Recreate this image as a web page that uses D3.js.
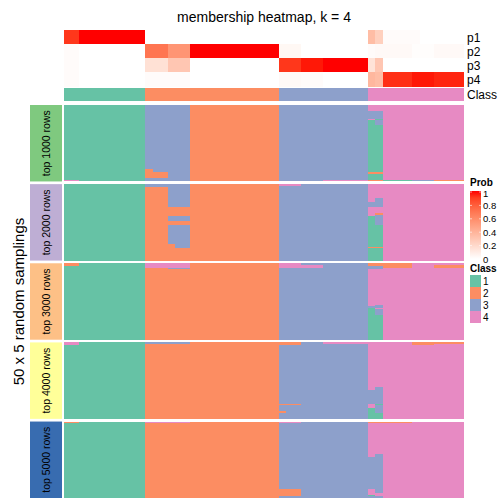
<!DOCTYPE html>
<html><head><meta charset="utf-8">
<script src="https://cdn.jsdelivr.net/npm/d3@7"></script>
<style>body{margin:0;background:#fff}svg{display:block}text{font-family:"Liberation Sans",Arial,sans-serif}</style>
</head><body>
<svg id="c" width="504" height="504"></svg>
<script>
// ---------- data ----------
const title = "membership heatmap, k = 4";
const sideTitle = "50 x 5 random samplings";
const panelNames = ["top 1000 rows","top 2000 rows","top 3000 rows","top 4000 rows","top 5000 rows"];
const probRows = ["p1","p2","p3","p4"];
const classLevels = [1,2,3,4];
const probTicks = [0,0.2,0.4,0.6,0.8,1];
const nSamplings = 50;

// consensus class of each of 54 samples (columns)
const sampleClass = [1,1,1,1,1,1,1,1,1,1,1,
  2,2,2,2,2,2,2,2,2,2,2,2,2,2,2,2,2,2,
  3,3,3,3,3,3,3,3,3,3,3,3,
  4,4,4,4,4,4,4,4,4,4,4,4,4];

// membership probabilities per sample
const p1 = [0.92,0.92,1,1,1,1,1,1,1,1,1,
  0,0,0,0,0,0,0,0,0,0,0,0,0,0,0,0,0,0,
  0,0,0,0,0,0,0,0,0,0,0,0,
  0.35,0.25,0.02,0.02,0.02,0.02,0.02,0,0,0,0,0,0];
const p2 = [0.02,0.02,0,0,0,0,0,0,0,0,0,
  0.7,0.7,0.7,0.55,0.55,0.55,1,1,1,1,1,1,1,1,1,1,1,1,
  0.04,0.04,0.04,0,0,0,0,0,0,0,0,0,
  0.02,0.03,0.03,0.03,0.03,0.03,0.01,0.01,0.01,0.03,0.03,0.03,0.03];
const p3 = [0.02,0.02,0,0,0,0,0,0,0,0,0,
  0.16,0.16,0.16,0.3,0.3,0.3,0,0,0,0,0,0,0,0,0,0,0,0,
  0.92,0.92,0.92,0.98,0.98,0.98,1,1,1,1,1,1,
  0.15,0.3,0,0,0,0,0,0,0,0,0,0,0];
const p4 = [0.02,0.02,0,0,0,0,0,0,0,0,0,
  0.02,0.02,0.02,0.02,0.02,0.02,0,0,0,0,0,0,0,0,0,0,0,0,
  0.03,0.03,0.03,0.02,0.02,0.02,0,0,0,0,0,0,
  0.38,0.35,0.94,0.94,0.94,0.94,0.98,0.98,0.98,0.96,0.96,0.96,0.96];

// per panel: deviations from the consensus class
// [firstSample, lastSample, firstSampling, lastSampling, class]
const panel1 = [
  [0,1,49,49,4],[11,16,0,49,3],[11,11,42,47,2],[12,13,44,47,2],[35,40,49,49,4],
  [41,41,4,8,3],[41,41,10,48,1],[41,41,44,44,2],
  [42,42,4,8,3],[42,42,9,9,1],[42,42,10,12,3],[42,42,13,48,1],[42,42,44,44,2],
  [41,42,49,49,2],[43,46,49,49,1],[47,49,49,49,3],[50,53,49,49,2]];
const panel2 = [
  [11,16,0,1,3],[14,16,2,14,3],[14,16,21,23,3],[14,14,27,38,3],[15,16,27,41,3],
  [29,31,0,0,4],
  [42,42,9,11,3],[41,42,12,14,3],[41,41,21,49,1],[41,41,41,41,2],
  [42,42,19,19,2],[42,42,20,26,3],[42,42,27,49,1],[42,42,41,41,2]];
const panel3 = [
  [0,1,0,1,2],[11,16,0,2,4],[14,16,3,3,3],
  [29,31,0,2,4],[32,34,1,2,4],
  [41,42,0,1,2],[41,42,2,3,3],[41,41,28,28,3],[41,41,29,49,1],
  [42,42,27,28,3],[42,42,30,33,3],[42,42,34,49,1],
  [43,46,0,2,2],[50,53,1,2,2]];
const panel4 = [
  [0,1,0,1,4],[11,16,0,0,3],
  [29,31,0,1,2],[29,31,40,40,2],[29,29,45,45,2],[35,40,0,0,4],
  [41,41,31,39,3],[41,41,43,49,1],[42,42,29,39,3],[42,42,40,40,1],[42,42,41,45,3],[42,42,46,49,1],
  [47,49,0,1,2],[50,53,0,0,2]];
const panel5 = [
  [0,1,0,0,2],[11,16,0,0,4],[29,31,0,0,4],[29,31,44,48,2],
  [41,42,0,0,2],[41,41,23,43,3],[41,41,48,48,1],[41,41,49,49,3],[42,42,21,46,3],[42,42,49,49,3],
  [43,46,0,0,2]];
const panels = [panel1,panel2,panel3,panel4,panel5];

// ---------- styles ----------
const classColors = ["#66c2a5","#fc8d62","#8da0cb","#e78ac3"];
const panelColors = ["#7fc97f","#beaed4","#fdc086","#ffff99","#386cb0"];

// ---------- drawing ----------
const svg = d3.select("#c");
const nS = sampleClass.length;
const x = d3.scaleBand().domain(d3.range(nS)).range([64,464]);
const yProb = d3.scaleBand().domain(probRows).range([30,86.5]);
const yClassBar = [88,101];
const yPanel = d3.scaleBand().domain(d3.range(panels.length)).range([105,498]).paddingInner(0.034);
const cls = d3.scaleOrdinal().domain(classLevels).range(classColors);
const prob = d3.scaleLinear().domain([0,1]).range(["#ffffff","#ff0000"]).interpolate(d3.interpolateLab);

svg.append("text").attr("x",264).attr("y",22).attr("text-anchor","middle")
  .attr("font-size",14).text(title);

const probData = [p1,p2,p3,p4];
const gTop = svg.append("g").attr("shape-rendering","crispEdges");
probRows.forEach((r,i)=>{
  gTop.selectAll(null).data(probData[i]).join("rect")
    .attr("x",(d,j)=>x(j)).attr("width",x.bandwidth()+0.3)
    .attr("y",yProb(r)).attr("height",yProb.bandwidth()+0.3)
    .attr("fill",d=>prob(d));
  svg.append("text").attr("x",467).attr("y",yProb(r)+yProb.bandwidth()/2+4.5)
    .attr("font-size",12).text(r);
});
gTop.selectAll(null).data(sampleClass).join("rect")
  .attr("x",(d,j)=>x(j)).attr("width",x.bandwidth()+0.3)
  .attr("y",yClassBar[0]).attr("height",yClassBar[1]-yClassBar[0])
  .attr("fill",d=>cls(d));
svg.append("text").attr("x",467).attr("y",(yClassBar[0]+yClassBar[1])/2+4.5)
  .attr("font-size",12).text("Class");

// panels
panels.forEach((ov,pi)=>{
  const grid = sampleClass.map(c=>d3.range(nSamplings).map(()=>c));
  ov.forEach(([c0,c1,r0,r1,k])=>{
    for(let c=c0;c<=c1;c++) for(let r=r0;r<=r1;r++) grid[c][r]=k;
  });
  const y = d3.scaleBand().domain(d3.range(nSamplings)).range([yPanel(pi), yPanel(pi)+yPanel.bandwidth()]);
  const runs = [];
  grid.forEach((col,c)=>{
    let start=0;
    for(let r=1;r<=nSamplings;r++){
      if(r===nSamplings || col[r]!==col[start]){
        runs.push({c, r0:start, r1:r-1, k:col[start]});
        start=r;
      }
    }
  });
  const g = svg.append("g").attr("shape-rendering","crispEdges");
  g.selectAll("rect").data(runs).join("rect")
    .attr("x",d=>x(d.c)).attr("width",x.bandwidth()+0.4)
    .attr("y",d=>y(d.r0)).attr("height",d=>y(d.r1)+y.bandwidth()-y(d.r0))
    .attr("fill",d=>cls(d.k));

  // panel label box
  const y0 = yPanel(pi), h = yPanel.bandwidth();
  svg.append("rect").attr("x",30).attr("y",y0).attr("width",32).attr("height",h)
    .attr("fill",panelColors[pi]);
  svg.append("text").attr("transform",`translate(${49.5},${y0+h/2}) rotate(-90)`)
    .attr("text-anchor","middle").attr("font-size",10.5).text(panelNames[pi]);
});

svg.append("text").attr("transform",`translate(24,${(105+498)/2}) rotate(-90)`)
  .attr("text-anchor","middle").attr("font-size",15).text(sideTitle);

// legends
const lx = 470;
svg.append("text").attr("x",lx).attr("y",186).attr("font-size",10).attr("font-weight","bold").text("Prob");
const defs = svg.append("defs");
const grad = defs.append("linearGradient").attr("id","pg").attr("x1",0).attr("y1",1).attr("x2",0).attr("y2",0);
d3.range(0,1.001,0.1).forEach(t=>grad.append("stop").attr("offset",t).attr("stop-color",prob(t)));
const yLeg = d3.scaleLinear().domain([0,1]).range([259,192]);
svg.append("rect").attr("x",lx).attr("y",yLeg(1)-1).attr("width",11).attr("height",yLeg(0)-yLeg(1)+1).attr("fill","url(#pg)");
probTicks.forEach(t=>{
  svg.append("text").attr("x",lx+13).attr("y",yLeg(t)+(t===1?4.5:3.5)).attr("font-size",9.5).text(t);
  svg.append("line").attr("x1",lx).attr("x2",lx+2).attr("y1",yLeg(t)).attr("y2",yLeg(t)).attr("stroke","#fff").attr("stroke-width",0.6);
  svg.append("line").attr("x1",lx+9).attr("x2",lx+11).attr("y1",yLeg(t)).attr("y2",yLeg(t)).attr("stroke","#fff").attr("stroke-width",0.6);
});
svg.append("text").attr("x",lx).attr("y",272).attr("font-size",10).attr("font-weight","bold").text("Class");
const yCl = d3.scaleBand().domain(classLevels).range([275,323]);
classLevels.forEach(k=>{
  svg.append("rect").attr("x",lx).attr("y",yCl(k)).attr("width",11).attr("height",yCl.bandwidth()).attr("fill",cls(k));
  svg.append("text").attr("x",lx+13).attr("y",yCl(k)+yCl.bandwidth()/2+3.5).attr("font-size",10).text(k);
});
</script>
</body></html>
